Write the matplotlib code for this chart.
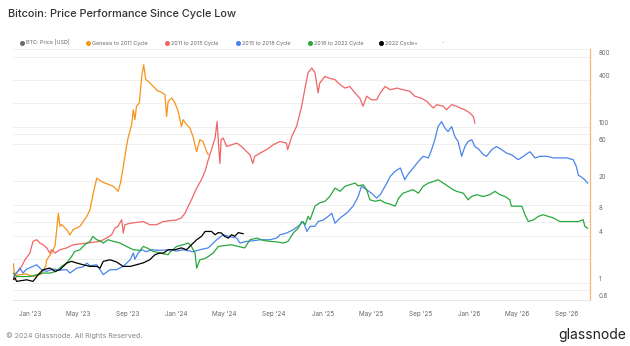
import numpy as np
import matplotlib
matplotlib.use("Agg")
import matplotlib.pyplot as plt
from matplotlib.lines import Line2D
from matplotlib.transforms import ScaledTranslation, blended_transform_factory
import matplotlib.dates as mdates

plt.rcParams['font.family'] = ['Inter', 'DejaVu Sans']

# day 0 = cycle low, value = multiple of the cycle-low price
cycle_low = np.datetime64('2022-11-21')

genesis_days = [0, 3, 10, 30, 50, 70, 80, 83, 95, 104, 112, 116, 120, 133, 141, 149, 166, 183,
                191, 199, 208, 216, 224, 249, 261, 267, 274, 282, 286, 295, 299, 303, 307, 314,
                320, 325, 330, 336, 349, 353, 361, 365, 378, 382, 386, 395, 403, 411, 419, 423,
                432, 440, 448, 457, 465, 473, 482, 486]
genesis_mult = [1.75, 1.1, 1.25, 1.3, 1.2, 1.3, 1.6, 1.97, 2.4, 3.0, 7.8, 5.3, 5.6, 4.8, 4.1, 4.8,
                5.3, 7.1, 8.65, 14.1, 22, 20.5, 19.4, 17.3, 14.9, 19, 31, 56, 72, 107, 166, 124,
                184, 203, 445, 629, 404, 385, 330, 315, 286, 286, 259, 136, 213, 235, 203, 158,
                101, 124, 107, 97, 75, 48, 68.5, 65, 48, 44]

c2011_days = [0, 4, 16, 29, 41, 49, 58, 66, 74, 83, 91, 95, 104, 116, 133, 149, 183, 216, 232,
              245, 253, 261, 270, 274, 278, 291, 324, 340, 357, 374, 407, 419, 428, 436, 444,
              457, 469, 478, 486, 494, 503, 508, 512, 515, 518, 523, 532, 544, 557, 569, 582,
              590, 597, 602, 615, 631, 648, 665, 681, 684, 694, 706, 719, 728, 735, 740, 744,
              752, 760, 764, 777, 789, 802, 815, 827, 839, 852, 864, 872, 881, 893, 906, 915,
              927, 940, 956, 972, 989, 1001, 1018, 1031, 1047, 1056, 1072, 1080, 1093, 1105,
              1114, 1126, 1139, 1147, 1151]
c2011_mult = [1.16, 1.3, 1.47, 1.97, 2.4, 3.4, 3.56, 3.23, 3.07, 2.8, 2.4, 2.65, 2.4, 2.65, 2.8,
              3.07, 3.23, 3.39, 3.74, 4.13, 5.0, 5.3, 6.44, 4.34, 5.55, 5.8, 6.1, 5.55, 5.55,
              6.1, 6.4, 6.8, 7.8, 9.6, 11.6, 16.3, 21, 27, 38, 51, 72, 117, 56, 34, 68.5, 72,
              56, 59, 62, 56, 48, 44, 34, 42, 46, 51, 59, 65, 62, 51, 75, 101, 184, 330, 500,
              535, 570, 500, 273, 365, 445, 420, 404, 348, 315, 330, 273, 233, 184, 248, 223,
              223, 273, 330, 300, 315, 300, 286, 248, 233, 213, 175, 193, 184, 166, 193, 184,
              175, 166, 150, 136, 112]

c2015_days = [0, 8, 16, 24, 33, 49, 58, 70, 83, 99, 116, 133, 141, 158, 174, 183, 191, 208, 216,
              224, 241, 257, 274, 291, 299, 303, 311, 320, 332, 345, 365, 390, 407, 423, 448,
              465, 486, 507, 523, 540, 557, 565, 582, 598, 615, 640, 657, 665, 681, 698, 715,
              723, 732, 740, 752, 760, 773, 785, 794, 802, 815, 831, 847, 860, 868, 881, 893,
              906, 915, 927, 940, 952, 965, 976, 985, 997, 1010, 1022, 1035, 1043, 1051, 1059,
              1068, 1076, 1084, 1093, 1101, 1109, 1118, 1126, 1134, 1143, 1151, 1160, 1172,
              1180, 1193, 1205, 1218, 1230, 1242, 1259, 1272, 1288, 1301, 1314, 1331, 1346,
              1363, 1380, 1396, 1404, 1409, 1415, 1425, 1432]
c2015_mult = [1.15, 1.33, 1.54, 1.33, 1.5, 1.62, 1.7, 1.47, 1.4, 1.5, 1.45, 1.47, 1.33, 1.54,
              1.6, 1.79, 1.65, 1.7, 1.47, 1.27, 1.47, 1.47, 1.62, 1.97, 2.4, 2.0, 2.4, 2.65, 2.5,
              2.65, 2.6, 2.65, 2.55, 2.65, 2.5, 2.65, 2.8, 3.56, 4.13, 3.9, 3.74, 3.23, 3.39,
              3.45, 3.56, 3.56, 3.75, 4.13, 4.34, 4.79, 5.55, 6.1, 4.55, 5.3, 5.3, 6.1, 6.4, 7.1,
              7.8, 5.8, 6.8, 7.8, 9.6, 12.8, 17.3, 15.6, 14.1, 12.2, 13.5, 17.3, 23.2, 27, 29.7,
              21, 25, 29.7, 36, 42, 40, 51, 68.5, 101, 117, 97, 87, 101, 75, 65, 42, 56, 65,
              68.5, 56, 52, 44, 42, 51, 56, 51, 46, 44, 38, 42, 48, 40, 42, 42, 40, 40, 40, 38,
              31, 24, 23, 21, 19]

c2018_days = [0, 8, 41, 74, 91, 107, 120, 133, 145, 153, 166, 178, 191, 198, 208, 216, 224, 236,
              249, 266, 282, 299, 316, 324, 336, 349, 361, 374, 386, 390, 407, 423, 436, 444,
              453, 457, 465, 478, 486, 498, 511, 527, 544, 561, 577, 590, 607, 623, 640, 657,
              673, 685, 698, 710, 719, 728, 735, 740, 752, 764, 777, 789, 802, 815, 827, 839,
              852, 860, 872, 881, 889, 902, 915, 927, 940, 952, 961, 972, 989, 997, 1010, 1022,
              1035, 1047, 1059, 1072, 1084, 1097, 1105, 1122, 1134, 1143, 1155, 1172, 1188,
              1201, 1213, 1226, 1238, 1242, 1268, 1276, 1284, 1297, 1309, 1321, 1334, 1346,
              1363, 1380, 1396, 1409, 1421, 1425, 1432]
c2018_mult = [1.33, 1.2, 1.2, 1.33, 1.33, 1.4, 1.62, 1.79, 2.17, 2.52, 2.65, 3.07, 3.39, 3.93,
              3.56, 3.45, 3.23, 3.56, 3.4, 3.23, 2.92, 2.65, 2.6, 2.92, 2.75, 2.52, 2.45, 2.35,
              2.29, 2.45, 2.92, 3.07, 3.23, 2.92, 2.4, 1.54, 1.97, 2.05, 2.17, 2.4, 2.92, 3.0,
              3.07, 2.92, 2.8, 3.56, 3.74, 3.5, 3.39, 3.35, 3.23, 3.4, 4.34, 5.0, 6.1, 5.6, 7.1,
              6.44, 9.6, 10.6, 11.1, 12.8, 16.4, 14.9, 17.3, 18.1, 19.0, 17.5, 18.1, 15.6, 11.6,
              11.1, 11.5, 10.6, 10.2, 9.6, 12.2, 14.1, 15.2, 15.6, 14.1, 17.3, 19.0, 19.9, 21,
              19, 17.3, 15.6, 14.9, 14.1, 11.6, 12.8, 13.5, 12.8, 13.5, 14.9, 13.5, 12.8, 11.6,
              9.6, 9.6, 7.46, 6.1, 6.4, 7.1, 7.46, 7.1, 6.8, 6.1, 6.1, 6.1, 6.1, 6.44, 5.3, 5.0]

c2022_days = [0, 4, 8, 33, 49, 62, 74, 91, 104, 116, 133, 145, 158, 174, 191, 208, 216, 224,
              241, 257, 274, 291, 307, 324, 340, 353, 365, 374, 386, 403, 419, 432, 444, 457,
              469, 478, 494, 503, 511, 519, 527, 536, 544, 552, 561, 573]
c2022_mult = [1.1, 1.15, 1.04, 1.09, 1.04, 1.27, 1.47, 1.54, 1.4, 1.47, 1.79, 1.88, 1.79, 1.7,
              1.62, 1.62, 1.54, 1.88, 1.97, 1.85, 1.62, 1.62, 1.7, 1.8, 1.97, 2.29, 2.4, 2.4,
              2.65, 2.65, 2.8, 2.65, 3.07, 3.56, 3.93, 4.55, 4.55, 4.13, 4.4, 4.34, 3.93, 3.74,
              4.13, 3.95, 4.4, 4.25]

legend_labels = ['BTC: Price [USD]', 'Genesis to 2011 Cycle', '2011 to 2015 Cycle',
                 '2015 to 2018 Cycle', '2018 to 2022 Cycle', '2022 Cycle+']
legend_colors = ['#6b6b6b', '#f7931a', '#f06565', '#4a84ea', '#28a83c', '#000000']

series = [
    (genesis_days, genesis_mult, '#f7931a'),
    (c2011_days, c2011_mult, '#f06565'),
    (c2015_days, c2015_mult, '#4a84ea'),
    (c2018_days, c2018_mult, '#28a83c'),
    (c2022_days, c2022_mult, '#000000'),
]

ytick_vals = [0.6, 1, 4, 8, 20, 60, 100, 400, 800]
ygrid_vals = [0.6, 0.8, 1, 2, 4, 6, 8, 10, 20, 60, 80, 100, 200, 400, 800, 1000]


def to_dates(days):
    return cycle_low + np.array(days).astype('timedelta64[D]')


fig = plt.figure(figsize=(6.3, 3.46), dpi=100)
ax = fig.add_axes([13 / 630, 46 / 346, 577 / 630, 251 / 346])

for days, mult, col in series:
    ax.plot(to_dates(days), mult, color=col, lw=0.9, solid_joinstyle='round')

ax.set_yscale('log')
ax.set_ylim(0.6, 1000)
ax.set_xlim(cycle_low - np.timedelta64(1, 'D'), cycle_low + np.timedelta64(1438, 'D'))

ax.set_yticks(ygrid_vals)
ax.yaxis.set_minor_locator(matplotlib.ticker.NullLocator())
ax.tick_params(axis='y', left=False, right=False, labelleft=False, labelright=False)
ax.grid(axis='y', color='#ececec', lw=0.6)
ax.set_axisbelow(True)

ax.xaxis.set_major_locator(mdates.MonthLocator(bymonth=[1, 5, 9]))
ax.xaxis.set_major_formatter(mdates.DateFormatter("%b '%y"))
ax.tick_params(axis='x', length=0, pad=8, labelsize=4.6, labelcolor='#666666')

for s in ['top', 'left']:
    ax.spines[s].set_visible(False)
ax.spines['bottom'].set_color('#e3e3e3')
ax.spines['bottom'].set_linewidth(0.6)
ax.spines['right'].set_color('#f6b77a')
ax.spines['right'].set_linewidth(0.9)

# right axis labels sit slightly above their grid line
trans = blended_transform_factory(ax.transAxes, ax.transData) + \
    ScaledTranslation(9 / 100, 4 / 100, fig.dpi_scale_trans)
for v in ytick_vals:
    ax.text(1, v, f'{v:g}', transform=trans, ha='left', va='center',
            fontsize=4.4, color='#666666')

fig.text(8 / 630, 1 - 14 / 346, 'Bitcoin: Price Performance Since Cycle Low',
         fontsize=7.9, color='#333333', va='center', fontweight='medium')

legend_x = [22, 88, 167, 238, 310, 381]
for lx, lab, col in zip(legend_x, legend_labels, legend_colors):
    fig.add_artist(Line2D([lx / 630], [1 - 43 / 346], marker='o', ms=2.6, color=col,
                          transform=fig.transFigure))
    fig.text((lx + 4) / 630, 1 - 43 / 346, lab, fontsize=3.9, color='#666666', va='center')
fig.text(442 / 630, 1 - 43 / 346, '-', fontsize=3.9, color='#999999', va='center')

fig.text(6 / 630, 1 - 336 / 346, '\u00a9 2024 Glassnode. All Rights Reserved.',
         fontsize=5.2, color='#888888', va='center')
fig.text(626 / 630, 1 - 335 / 346, 'glassnode', fontsize=10, color='#222222',
         ha='right', va='center')

fig.savefig('out.png', dpi=100)
